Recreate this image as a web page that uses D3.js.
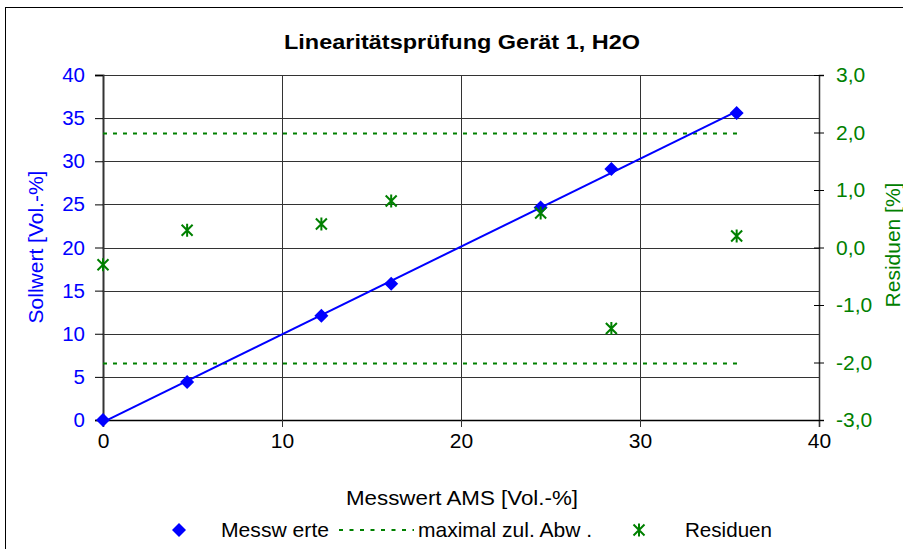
<!DOCTYPE html>
<html><head><meta charset="utf-8">
<script src="https://cdn.jsdelivr.net/npm/d3@7"></script>
<style>body{margin:0;background:#fff}svg{display:block}text{font-family:"Liberation Sans",Arial,sans-serif}</style>
</head><body>
<svg id="c" width="903" height="549"></svg>
<script>
const messX = [0, 4.7, 12.2, 16.1, 24.45, 28.4, 35.4];
const messY = [0, 4.4, 12.1, 15.8, 24.65, 29.1, 35.6];
const residuen = [-0.3, 0.3, 0.41, 0.81, 0.6, -1.41, 0.2];
const limitX = [0, 35.6];
const limitUpper = [2.0, 2.0];
const limitLower = [-2.0, -2.0];
const xTicks = [0, 10, 20, 30, 40];
const yTicks = [0, 5, 10, 15, 20, 25, 30, 35, 40];
const y2Ticks = [-3, -2, -1, 0, 1, 2, 3];
const title = "Linearitätsprüfung Gerät 1, H2O";

const svg = d3.select("#c");
const L = 103, R = 819, T = 75, B = 420;
const x = d3.scaleLinear().domain([0, 40]).range([L, R]);
const y = d3.scaleLinear().domain([0, 40]).range([B, T]);
const y2 = d3.scaleLinear().domain([-3, 3]).range([B, T]);
const blue = "#0000ff", green = "#008000";

// outer frame
svg.append("rect").attr("x", 5.5).attr("y", 7.5).attr("width", 910).attr("height", 560)
  .attr("fill", "#fff").attr("stroke", "#000").attr("stroke-width", 1);

// gridlines
svg.append("g").selectAll("line").data(yTicks).join("line")
  .attr("x1", L).attr("x2", R).attr("y1", d => Math.round(y(d)) + 0.5).attr("y2", d => Math.round(y(d)) + 0.5)
  .attr("stroke", "#333").attr("stroke-width", 1);
svg.append("g").selectAll("line").data(xTicks).join("line")
  .attr("x1", d => Math.round(x(d)) + 0.5).attr("x2", d => Math.round(x(d)) + 0.5).attr("y1", T).attr("y2", B)
  .attr("stroke", "#333").attr("stroke-width", 1);

// axes
const fmt2 = d => d3.format(".1f")(d).replace(".", ",").replace("−", "-");
const gL = svg.append("g").attr("transform", `translate(${L},0)`)
  .call(d3.axisLeft(y).tickValues(yTicks).tickSize(8).tickPadding(10));
gL.select(".domain").attr("stroke", "#333").attr("stroke-width", 2);
gL.selectAll(".tick line").attr("stroke", "#000");
gL.selectAll("text").attr("fill", blue).attr("font-size", 20.5);

const gB = svg.append("g").attr("transform", `translate(0,${B})`)
  .call(d3.axisBottom(x).tickValues(xTicks).tickSize(7).tickPadding(6));
gB.select(".domain").attr("stroke", "#000").attr("stroke-width", 1.5);
gB.selectAll(".tick line").attr("stroke", "#333");
gB.selectAll("text").attr("fill", "#000").attr("font-size", 21);

const gR = svg.append("g").attr("transform", `translate(${R},0)`)
  .call(d3.axisRight(y2).tickValues(y2Ticks).tickSize(5).tickPadding(12).tickFormat(fmt2));
gR.select(".domain").attr("stroke", "#333").attr("stroke-width", 1.5);
gR.selectAll(".tick line").attr("x1", -5).attr("stroke", "#000");
gR.selectAll("text").attr("fill", green).attr("font-size", 21);

// limit lines
[limitUpper, limitLower].forEach(arr => {
  svg.append("path").datum(limitX.map((d, i) => [d, arr[i]]))
    .attr("d", d3.line().x(d => x(d[0])).y(d => Math.round(y2(d[1])) + 0.5))
    .attr("fill", "none").attr("stroke", green).attr("stroke-width", 2).attr("stroke-dasharray", "4,6");
});

// regression line from data
const mx = d3.mean(messX), my = d3.mean(messY);
const slope = d3.sum(messX.map((d, i) => (d - mx) * (messY[i] - my))) / d3.sum(messX.map(d => (d - mx) ** 2));
const icpt = my - slope * mx;
const x0 = d3.min(messX), x1 = d3.max(messX);
svg.append("line").attr("x1", x(x0)).attr("y1", y(icpt + slope * x0))
  .attr("x2", x(x1)).attr("y2", y(icpt + slope * x1)).attr("stroke", blue).attr("stroke-width", 2);

// markers
const diamond = (g, cx, cy, s) => g.append("path")
  .attr("d", `M${cx},${cy - s}L${cx + s},${cy}L${cx},${cy + s}L${cx - s},${cy}Z`).attr("fill", blue);
const star = (g, cx, cy, s) => g.append("path")
  .attr("d", `M${cx - s},${cy - s}L${cx + s},${cy + s}M${cx + s},${cy - s}L${cx - s},${cy + s}M${cx},${cy - s - 1}L${cx},${cy + s + 1}`)
  .attr("stroke", green).attr("stroke-width", 2).attr("fill", "none");
const gm = svg.append("g");
messX.forEach((d, i) => diamond(gm, x(d), y(messY[i]), 7));
const gs = svg.append("g");
messX.forEach((d, i) => star(gs, x(d), y2(residuen[i]), 5.5));

// titles
svg.append("text").attr("x", 462).attr("y", 49).attr("text-anchor", "middle")
  .attr("font-size", 21).attr("font-weight", "bold")
  .attr("textLength", 356).attr("lengthAdjust", "spacingAndGlyphs").text(title);
svg.append("text").attr("x", 462).attr("y", 505).attr("text-anchor", "middle")
  .attr("font-size", 21).attr("textLength", 232).attr("lengthAdjust", "spacingAndGlyphs").text("Messwert AMS [Vol.-%]");
svg.append("text").attr("transform", "translate(43,247) rotate(-90)").attr("text-anchor", "middle")
  .attr("font-size", 21).attr("fill", blue).text("Sollwert [Vol.-%]");
svg.append("text").attr("transform", "translate(900,245) rotate(-90)").attr("text-anchor", "middle")
  .attr("font-size", 21).attr("fill", green).text("Residuen [%]");

// legend
const lg = svg.append("g");
diamond(lg, 179, 530, 7);
lg.append("text").attr("x", 221).attr("y", 537).attr("font-size", 21)
  .attr("textLength", 108).attr("lengthAdjust", "spacingAndGlyphs").text("Messw erte");
lg.append("line").attr("x1", 339).attr("x2", 414).attr("y1", 530).attr("y2", 530)
  .attr("stroke", green).attr("stroke-width", 2).attr("stroke-dasharray", "4,6.5");
lg.append("text").attr("x", 418).attr("y", 537).attr("font-size", 21)
  .attr("textLength", 174).attr("lengthAdjust", "spacingAndGlyphs").text("maximal zul. Abw .");
star(lg, 639, 530, 5.5);
lg.append("text").attr("x", 685).attr("y", 537).attr("font-size", 21)
  .attr("textLength", 87).attr("lengthAdjust", "spacingAndGlyphs").text("Residuen");
</script>
</body></html>
